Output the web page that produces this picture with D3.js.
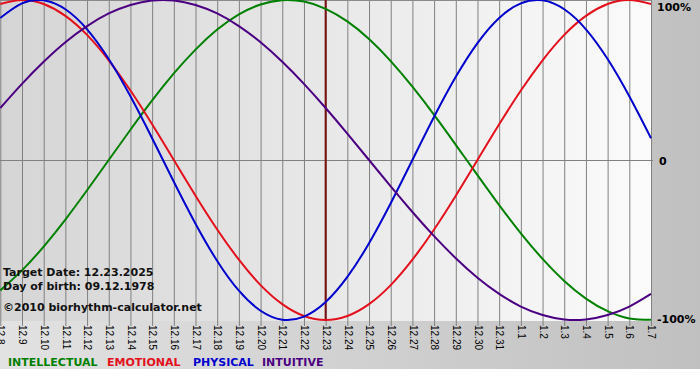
<!DOCTYPE html>
<html>
<head>
<meta charset="utf-8">
<script src="https://cdn.jsdelivr.net/npm/d3@7"></script>
<style>
  body { margin: 0; background: #fff; }
  svg { display: block; }
  .bold { font-family: "DejaVu Sans", Verdana, sans-serif; font-weight: bold; }
  .tick text { font-family: "Liberation Sans", Arial, sans-serif; font-size: 10px; fill: #000; }
</style>
</head>
<body>
<div id="chart"></div>
<script>
// day labels along the bottom (12.08.2025 .. 01.07.2026)
var days = ["12.8", "12.9", "12.10", "12.11", "12.12", "12.13", "12.14", "12.15", "12.16", "12.17",
            "12.18", "12.19", "12.20", "12.21", "12.22", "12.23", "12.24", "12.25", "12.26", "12.27",
            "12.28", "12.29", "12.30", "12.31", "1.1", "1.2", "1.3", "1.4", "1.5", "1.6", "1.7"];
var targetDay = "12.23";

// values per day, -1 .. 1
var intellectual = [-0.815, -0.690, -0.541, -0.372, -0.189, 0, 0.189, 0.372, 0.541, 0.690,
                    0.815, 0.910, 0.972, 0.999, 0.990, 0.945, 0.866, 0.756, 0.618, 0.458,
                    0.282, 0.095, -0.095, -0.282, -0.458, -0.618, -0.756, -0.866, -0.945, -0.990, -0.999];
var emotional = [0.975, 1, 0.975, 0.901, 0.782, 0.623, 0.434, 0.223, 0, -0.223,
                 -0.434, -0.623, -0.782, -0.901, -0.975, -1, -0.975, -0.901, -0.782, -0.623,
                 -0.434, -0.223, 0, 0.223, 0.434, 0.623, 0.782, 0.901, 0.975, 1, 0.975];
var physical = [0.888, 0.979, 0.998, 0.942, 0.817, 0.631, 0.398, 0.136, -0.136, -0.398,
                -0.631, -0.817, -0.942, -0.998, -0.979, -0.888, -0.731, -0.520, -0.270, 0,
                0.270, 0.520, 0.731, 0.888, 0.979, 0.998, 0.942, 0.817, 0.631, 0.398, 0.136];
var intuitive = [0.325, 0.476, 0.614, 0.736, 0.837, 0.916, 0.969, 0.997, 0.997, 0.969,
                 0.916, 0.837, 0.736, 0.614, 0.476, 0.325, 0.165, 0, -0.165, -0.325,
                 -0.476, -0.614, -0.736, -0.837, -0.916, -0.969, -0.997, -0.997, -0.969, -0.916, -0.837];

var seriesNames = ["INTELLECTUAL", "EMOTIONAL", "PHYSICAL", "INTUITIVE"];
var yTicks = [1, 0, -1];
var yTickLabels = ["100%", "0", "-100%"];
var infoLines = ["Target Date: 12.23.2025", "Day of birth: 09.12.1978", "\u00a92010 biorhythm-calculator.net"];

var width = 700, height = 380;
var plotW = 651, plotH = 321;
var colors = ["#008000", "#e3101c", "#0000cc", "#4b0082"];
var series = [intellectual, emotional, physical, intuitive];

var svg = d3.select("#chart").append("svg")
            .attr("width", width)
            .attr("height", height);

var defs = svg.append("defs");
var bgGrad = defs.append("linearGradient").attr("id", "bgGrad");
bgGrad.append("stop").attr("offset", "0%").attr("stop-color", "#e2e2e2");
bgGrad.append("stop").attr("offset", "100%").attr("stop-color", "#c0c0c0");
var plotGrad = defs.append("linearGradient").attr("id", "plotGrad");
plotGrad.append("stop").attr("offset", "0%").attr("stop-color", "#d5d5d5");
plotGrad.append("stop").attr("offset", "100%").attr("stop-color", "#fbfbfb");

// backgrounds
svg.append("rect").attr("width", width).attr("height", 369).attr("fill", "url(#bgGrad)");
svg.append("rect").attr("width", plotW).attr("height", plotH).attr("fill", "url(#plotGrad)");

var x = d3.scaleLinear().domain([0, days.length - 1]).range([0.3, plotW]);
var y = d3.scaleLinear().domain([-1, 1]).range([320, 0]);

// vertical day grid + bottom labels
var xAxis = svg.append("g")
               .attr("transform", "translate(0," + plotH + ")")
               .call(d3.axisBottom(x)
                       .tickValues(d3.range(days.length))
                       .tickSize(5)
                       .tickFormat(function(d) { return days[d]; }));
xAxis.select(".domain").remove();
xAxis.selectAll(".tick line").attr("stroke", "#808080").attr("y1", -plotH);
xAxis.selectAll(".tick text")
     .attr("transform", "rotate(90)")
     .attr("text-anchor", "start")
     .attr("x", 4)
     .attr("y", 0)
     .attr("dy", "0.33em");

// horizontal zero line + top border
svg.append("line")
   .attr("x1", 0).attr("x2", plotW + 2)
   .attr("y1", y(0) + 0.5).attr("y2", y(0) + 0.5)
   .attr("stroke", "#808080");
svg.append("line")
   .attr("x1", 0).attr("x2", plotW)
   .attr("y1", 0.5).attr("y2", 0.5)
   .attr("stroke", "#8a8a8a");

// right labels
svg.selectAll(".ylab")
   .data(yTicks)
   .enter()
   .append("text")
   .attr("class", "bold")
   .attr("x", function(d, i) { return i == 1 ? 659 : 657; })
   .attr("y", function(d) { return Math.min(Math.max(y(d), 6), 318) + 5; })
   .style("font-size", "11px")
   .text(function(d, i) { return yTickLabels[i]; });

// current day marker
var ti = days.indexOf(targetDay);
svg.append("line")
   .attr("x1", x(ti)).attr("x2", x(ti))
   .attr("y1", 0).attr("y2", plotH)
   .attr("stroke", "#7a0f0f")
   .attr("stroke-width", 2);

// curves
var line = d3.line()
             .curve(d3.curveNatural)
             .x(function(d, i) { return x(i); })
             .y(function(d) { return y(d); });

svg.append("g")
   .selectAll("path")
   .data(series)
   .enter()
   .append("path")
   .attr("d", line)
   .attr("fill", "none")
   .attr("stroke", function(d, i) { return colors[i]; })
   .attr("stroke-width", 2);

// info text
svg.selectAll(".info")
   .data(infoLines)
   .enter()
   .append("text")
   .attr("class", "bold")
   .attr("x", 3)
   .attr("y", function(d, i) { return [276, 290, 311][i]; })
   .style("font-size", "11px")
   .attr("fill", "#111")
   .text(function(d) { return d; });

// legend
var legendX = [8, 107, 193, 262];
svg.selectAll(".legend")
   .data(seriesNames)
   .enter()
   .append("text")
   .attr("class", "bold")
   .attr("x", function(d, i) { return legendX[i]; })
   .attr("y", 366)
   .style("font-size", "11px")
   .attr("fill", function(d, i) { return colors[i]; })
   .text(function(d) { return d; });
</script>
</body>
</html>
